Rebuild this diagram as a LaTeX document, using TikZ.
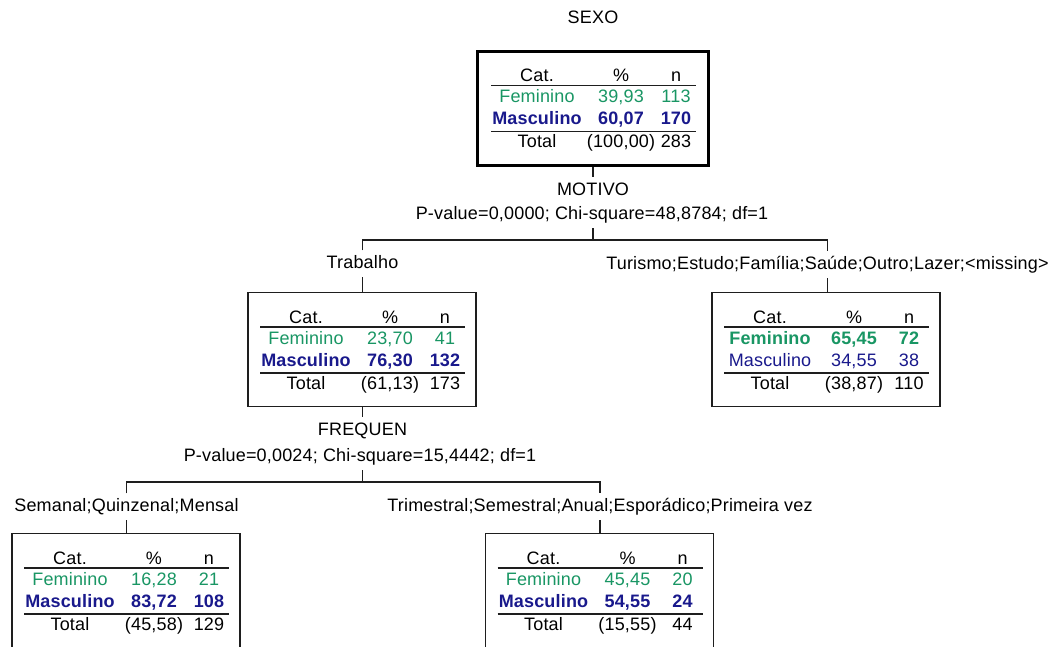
\documentclass[tikz,border=0pt]{standalone}
\usepackage{fontspec}
\setmainfont{Liberation Sans}[LetterSpace=1.0]
\definecolor{femc}{RGB}{25,150,100}
\definecolor{mascc}{RGB}{25,25,140}
\definecolor{linec}{RGB}{30,30,30}
\tikzset{
  every node/.style={font=\fontsize{18}{20}\selectfont, text=black},
  cbox/.style={draw=linec, line width=1.3pt, minimum width=228pt, minimum height=114pt, inner sep=0pt},
  rootbox/.style={draw=black, line width=3pt, minimum width=231pt, minimum height=114pt, inner sep=0pt},
  cell/.style={anchor=base, inner sep=0pt},
  lbl/.style={anchor=base, text height=12.8pt, text depth=3.5pt, inner ysep=5pt, inner xsep=0pt},
  rule/.style={draw=linec, line width=1.3pt},
  conn/.style={draw=linec, line width=1.3pt},
}
\def\cfemb{}\def\cmascb{}
% #1 name, #2 cx, #3 top, #4 fem pct, #5 fem n, #6 masc pct, #7 masc n, #8 tot pct, #9 tot n
\newcommand\crtcells[9]{%
  \node[cell] (#1-hc) at ({#2-56},{#3+25+6.4}) {Cat.};
  \node[cell] (#1-hp) at ({#2+28},{#3+25+6.4}) {\%};
  \node[cell] (#1-hn) at ({#2+83},{#3+25+6.4}) {n};
  \draw[rule] ({#2-102},{#3+35}) -- ({#2+103},{#3+35});
  \node[cell, text=femc] (#1-fc) at ({#2-56},{#3+46+6.4}) {\cfemb Feminino};
  \node[cell, text=femc] (#1-fp) at ({#2+28},{#3+46+6.4}) {\cfemb #4};
  \node[cell, text=femc] (#1-fn) at ({#2+83},{#3+46+6.4}) {\cfemb #5};
  \node[cell, text=mascc] (#1-mc) at ({#2-56},{#3+68+6.4}) {\cmascb Masculino};
  \node[cell, text=mascc] (#1-mp) at ({#2+28},{#3+68+6.4}) {\cmascb #6};
  \node[cell, text=mascc] (#1-mn) at ({#2+83},{#3+68+6.4}) {\cmascb #7};
  \draw[rule] ({#2-102},{#3+81}) -- ({#2+103},{#3+81});
  \node[cell] (#1-tc) at ({#2-56},{#3+91+6.4}) {Total};
  \node[cell] (#1-tp) at ({#2+28},{#3+91+6.4}) {#8};
  \node[cell] (#1-tn) at ({#2+83},{#3+91+6.4}) {#9};
}
\begin{document}
\begin{tikzpicture}[x=1pt,y=-1pt]
\useasboundingbox (0,0) rectangle (1050,646);
\clip (0,0) rectangle (1050,646);
\fill[white] (0,0) rectangle (1050,646);

% root
\node[lbl] (sexo) at (593,{17+6.4}) {SEXO};
\node[rootbox, anchor=north] (root) at (593,50) {};
\def\cfemb{}\def\cmascb{\bfseries}
\crtcells{root}{593}{50.5}{39,93}{113}{60,07}{170}{(100,00)}{283}

\node[lbl] (motivo) at (593,{189+6.4}) {MOTIVO};
\node[lbl] (pval1) at (592,{213+6.4}) {P-value=0,0000; Chi-square=48,8784; df=1};
\coordinate (j1) at (593,240);

% level 1 labels
\node[lbl] (trab) at (362.5,{262+6.4}) {Trabalho};
\node[lbl] (tur) at (827.5,{263+6.4}) {Turismo;Estudo;Família;Saúde;Outro;Lazer;<missing>};

% level 1 boxes
\node[cbox, anchor=north] (l1) at (362,292) {};
\def\cfemb{}\def\cmascb{\bfseries}
\crtcells{l1}{362}{292}{23,70}{41}{76,30}{132}{(61,13)}{173}

\node[cbox, anchor=north] (r1) at (826,292) {};
\def\cfemb{\bfseries}\def\cmascb{}
\crtcells{r1}{826}{292}{65,45}{72}{34,55}{38}{(38,87)}{110}

\node[lbl] (freq) at (362.5,{429+6.4}) {FREQUEN};
\node[lbl] (pval2) at (360,{455+6.4}) {P-value=0,0024; Chi-square=15,4442; df=1};
\coordinate (j2) at (362.5,482);

% level 2 labels
\node[lbl] (sem) at (126.5,{505+6.4}) {Semanal;Quinzenal;Mensal};
\node[lbl] (tri) at (600,{505+6.4}) {Trimestral;Semestral;Anual;Esporádico;Primeira vez};

% level 2 boxes
\node[cbox, anchor=north] (ll) at (126,533) {};
\def\cfemb{}\def\cmascb{\bfseries}
\crtcells{ll}{126}{533}{16,28}{21}{83,72}{108}{(45,58)}{129}

\node[cbox, anchor=north] (lr) at (599.5,533) {};
\def\cfemb{}\def\cmascb{\bfseries}
\crtcells{lr}{599.5}{533}{45,45}{20}{54,55}{24}{(15,55)}{44}

% connectors
\draw[conn] (root.south) -- (root.south |- motivo.north);
\draw[conn] (j1 |- pval1.south) -- (j1);
\draw[conn] (trab.north) -- (trab.north |- j1) -- (tur.north |- j1) -- (tur.north);
\draw[conn] (trab.south) -- (trab.south |- l1.north);
\draw[conn] (tur.south) -- (tur.south |- r1.north);
\draw[conn] (freq.north |- l1.south) -- (freq.north);
\draw[conn] (j2 |- pval2.south) -- (j2);
\draw[conn] (sem.north) -- (sem.north |- j2) -- (tri.north |- j2) -- (tri.north);
\draw[conn] (sem.south) -- (sem.south |- ll.north);
\draw[conn] (tri.south) -- (tri.south |- lr.north);
\end{tikzpicture}
\end{document}
